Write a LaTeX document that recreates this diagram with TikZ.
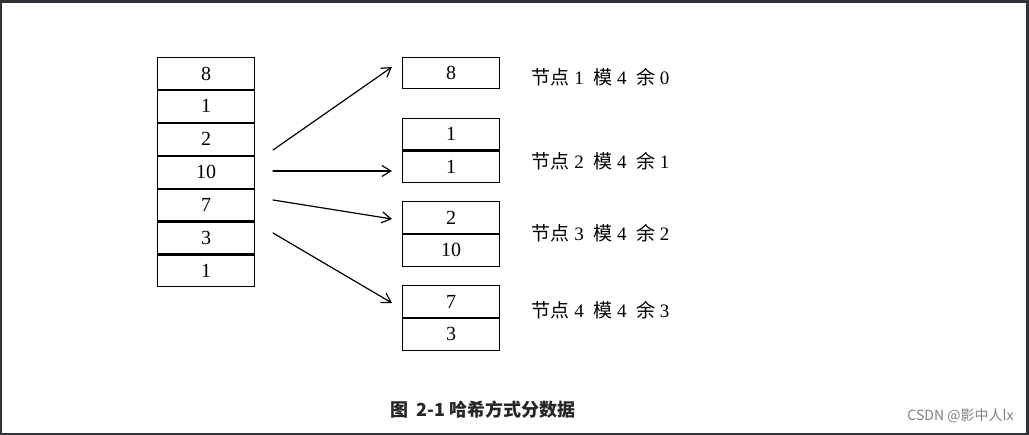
\documentclass[tikz,border=0pt]{standalone}
\usepackage{fontspec}
\setmainfont{Liberation Serif}
\newfontfamily\cjk{Noto Sans CJK SC}
\usetikzlibrary{arrows.meta,positioning}
\definecolor{frame}{HTML}{2f3338}
\begin{document}
\begin{tikzpicture}[x=1pt,y=-1pt,every path/.style={line cap=round}]

        \tikzset{cell/.style = {shape=rectangle,draw,line width=1.1pt,minimum width=97pt,minimum height=31.8pt,inner sep=0pt,font=\fontsize{20}{20}\selectfont}}
        \tikzset{hasharrow/.style = {-{Straight Barb[length=9pt,width=11pt]},line width=1.2pt}}
        \tikzset{label/.style = {anchor=west,font=\fontsize{19}{19}\selectfont}}

        \fill[frame] (0,0) rectangle (1029,435);
        \fill[white] (2,3) rectangle (1026,433);

        \node[cell] (l1) at (206,73.5) {8};
        \node[cell,below=0pt of l1] (l2) {1};
        \node[cell,below=0pt of l2] (l3) {2};
        \node[cell,below=0pt of l3] (l4) {10};
        \node[cell,below=0pt of l4] (l5) {7};
        \node[cell,below=0pt of l5] (l6) {3};
        \node[cell,below=0pt of l6] (l7) {1};

        \node[cell] (a1) at (451,73) {8};
        \node[cell] (b1) at (451,134) {1};
        \node[cell,below=0pt of b1] (b2) {1};
        \node[cell] (c1) at (451,217.5) {2};
        \node[cell,below=0pt of c1] (c2) {10};
        \node[cell] (d1) at (451,301.5) {7};
        \node[cell,below=0pt of d1] (d2) {3};

        \node[label] (ta) at (528,77) {{\cjk 节点} 1\ \ {\cjk 模} 4\ \ {\cjk 余} 0};
        \node[label] (tb) at (528,161) {{\cjk 节点} 2\ \ {\cjk 模} 4\ \ {\cjk 余} 1};
        \node[label] (tc) at (528,233) {{\cjk 节点} 3\ \ {\cjk 模} 4\ \ {\cjk 余} 2};
        \node[label] (td) at (528,310) {{\cjk 节点} 4\ \ {\cjk 模} 4\ \ {\cjk 余} 3};

        \coordinate (s1) at (273,150);
        \coordinate (s2) at (273,171);
        \coordinate (s3) at (273,200);
        \coordinate (s4) at (273,233);
        \draw[hasharrow] (s1) -- (392,67);
        \draw[hasharrow] (s2) -- (392,171);
        \draw[hasharrow] (s3) -- (392,219);
        \draw[hasharrow] (s4) -- (392,303);

        \node[font=\cjk\bfseries\fontsize{18}{18}\selectfont,text=black!85] (cap) at (483,410) {图\ \ 2-1 哈希方式分数据};
        \node[anchor=east,text=gray,font=\cjk\fontsize{14}{14}\selectfont] (mark) at (1017,416) {CSDN @影中人lx};
\end{tikzpicture}
\end{document}
